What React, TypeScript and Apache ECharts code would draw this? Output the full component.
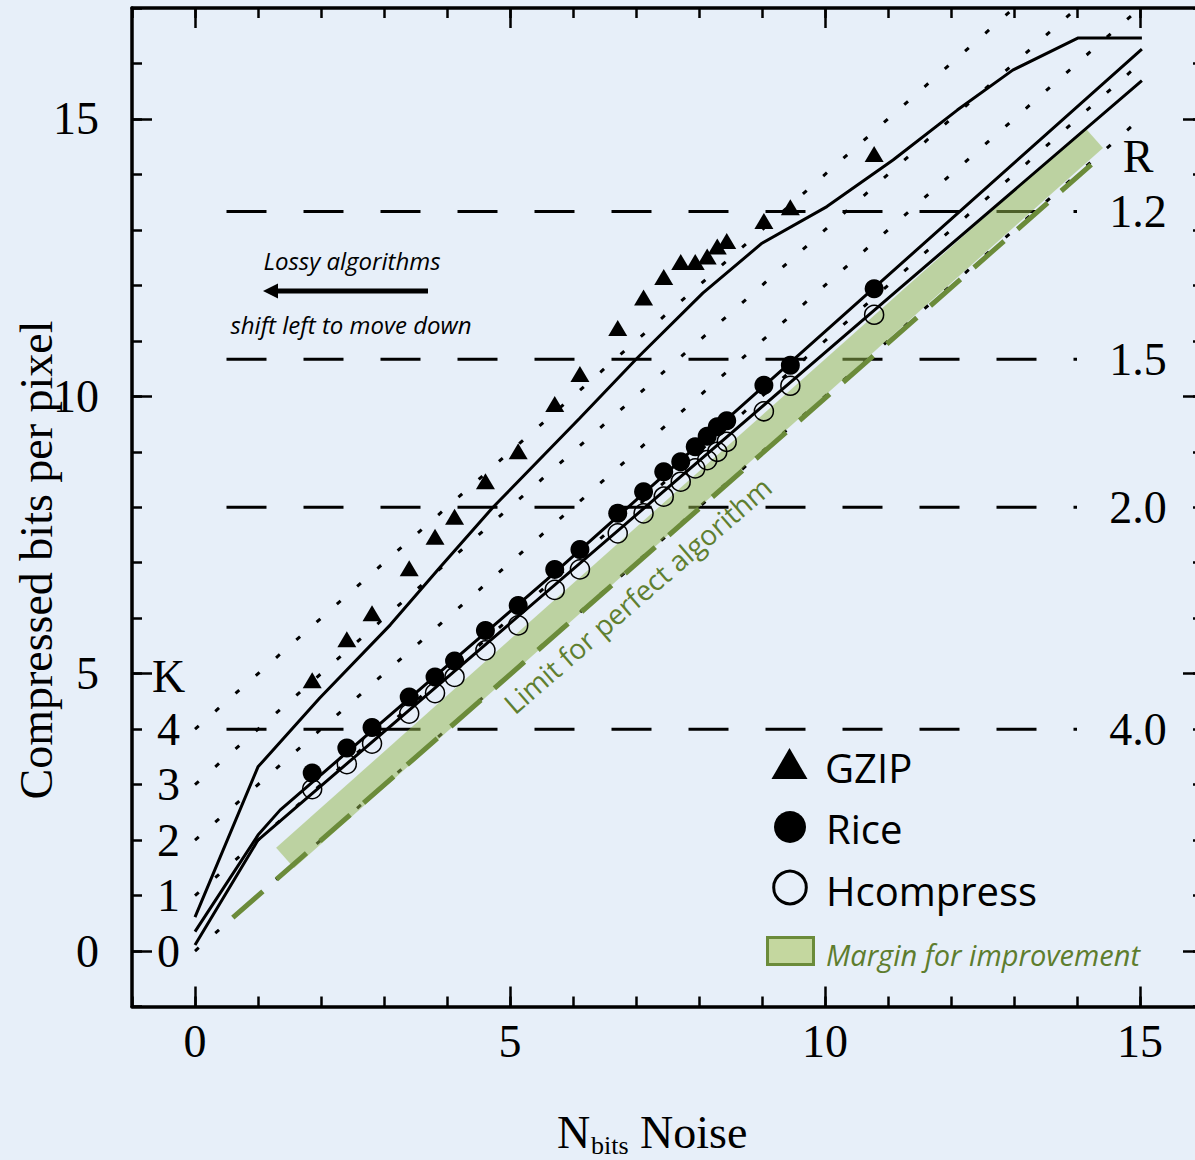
import React, { useEffect, useRef } from "react";
import * as echarts from "echarts";

// ---------- data ----------
const nBits = [1.86, 2.41, 2.81, 3.4, 3.81, 4.12, 4.61, 5.13, 5.71, 6.11, 6.71, 7.12, 7.44, 7.71, 7.94, 8.13, 8.29, 8.44, 9.03, 9.45, 10.78];
const gzipBits = [4.88, 5.62, 6.09, 6.9, 7.47, 7.83, 8.47, 9.01, 9.86, 10.4, 11.23, 11.78, 12.15, 12.42, 12.42, 12.52, 12.7, 12.8, 13.16, 13.41, 14.37];
const riceBits = [3.21, 3.66, 4.03, 4.58, 4.94, 5.23, 5.78, 6.23, 6.88, 7.24, 7.89, 8.28, 8.64, 8.82, 9.09, 9.28, 9.45, 9.56, 10.2, 10.56, 11.94];
const hcompBits = [2.92, 3.37, 3.74, 4.28, 4.65, 4.94, 5.42, 5.87, 6.51, 6.88, 7.53, 7.89, 8.19, 8.46, 8.7, 8.85, 9.0, 9.18, 9.73, 10.19, 11.47];

const gzipFitX = [0, 1, 1.98, 3.1, 3.89, 4.73, 6.11, 7.02, 8.06, 9.0, 10.03, 11.08, 12.1, 12.98, 14.02, 15.03];
const gzipFitY = [0.61, 3.32, 4.56, 5.88, 6.92, 8.0, 9.61, 10.69, 11.86, 12.76, 13.42, 14.26, 15.16, 15.88, 16.46, 16.46];
const riceFitX = [0, 1, 1.35, 5.58, 15.03];
const riceFitY = [0.35, 2.09, 2.54, 6.69, 16.26];
const hcompFitX = [0, 1, 11.19, 15.03];
const hcompFitY = [0.11, 2.0, 11.95, 15.69];

// dotted reference lines (label K), start and end points
const kLabels = ["0", "1", "2", "3", "4"];
const kStartY = [0, 1, 2, 3, 4];
const kEndX = [15, 15, 15, 14, 13];
const kEndY = [15, 16, 17, 17, 17];

// dashed horizontal lines (label R)
const rLabels = ["1.2", "1.5", "2.0", "4.0"];
const rLevels = [13.33, 10.67, 8.0, 4.0];
const rLineX = [0.5, 14.0];

// perfect-algorithm limit and margin band
const limitX = [0.6, 14.25];
const limitY = [0.6, 14.2];
const bandX = [1.43, 14.27];
const bandY = [1.68, 14.66];

const xTicks = [0, 5, 10, 15];
const yTicks = [0, 5, 10, 15];

const SERIF = "'Liberation Serif', 'Times New Roman', serif";
const SANS = "'Open Sans', 'Noto Sans', sans-serif";
const OLIVE = "#6b8b3a";
const BG = "#e7eff9";

export default function App() {
  const ref = useRef<HTMLDivElement>(null);

  useEffect(() => {
    if (!ref.current) return;
    const chart = echarts.init(ref.current, null, { renderer: "svg" });

    const axisLine = { show: true, onZero: false, lineStyle: { color: "#000", width: 3.5 } };
    const tickLine = { color: "#000", width: 2.5 };
    const mkX = (position: string, major: boolean, labels: boolean) => ({
      type: "value",
      min: -1,
      max: 16,
      interval: 1,
      position,
      splitLine: { show: false },
      axisLine: major ? { show: false, onZero: false } : axisLine,
      axisTick: major
        ? { show: true, inside: true, length: 20, customValues: xTicks, lineStyle: tickLine }
        : { show: true, inside: true, length: 10, lineStyle: tickLine },
      axisLabel: labels
        ? { show: true, customValues: xTicks, fontSize: 46, fontFamily: SERIF, color: "#000", margin: 12 }
        : { show: false },
    });
    const mkY = (position: string, major: boolean, labels: boolean) => ({
      type: "value",
      min: -1,
      max: 17,
      interval: 1,
      position,
      splitLine: { show: false },
      axisLine: major ? { show: false, onZero: false } : axisLine,
      axisTick: major
        ? { show: true, inside: true, length: 20, customValues: yTicks, lineStyle: tickLine }
        : { show: true, inside: true, length: 10, lineStyle: tickLine },
      axisLabel: labels
        ? { show: true, customValues: yTicks, fontSize: 46, fontFamily: SERIF, color: "#000", margin: 33 }
        : { show: false },
    });

    const pairs = (xs: number[], ys: number[]) => xs.map((x, i) => [x, ys[i]]);

    const kSeries = kLabels.map((k, i) => ({
      type: "line",
      name: "K" + k,
      data: [[0, kStartY[i]], [kEndX[i], kEndY[i]]],
      symbol: "none",
      silent: true,
      z: 1,
      lineStyle: { color: "#000", width: 3, type: [5, 22] },
    }));
    const rSeries = rLevels.map((y, i) => ({
      type: "line",
      name: "R" + rLabels[i],
      data: [[rLineX[0], y], [rLineX[1], y]],
      symbol: "none",
      silent: true,
      z: 1,
      lineStyle: { color: "#000", width: 3, type: [40, 37] },
    }));

    const textPoint = (data: any[], extra: any) => ({
      type: "scatter",
      data,
      symbol: "circle",
      symbolSize: 1,
      silent: true,
      z: 10,
      itemStyle: { color: "transparent" },
      label: {
        show: true,
        position: "inside",
        formatter: (p: any) => p.value[2],
        textBorderWidth: 0,
        textShadowBlur: 0,
        opacity: 1,
        ...extra,
      },
    });

    const option: any = {
      animation: false,
      backgroundColor: BG,
      grid: { left: 132, top: 8, width: 1071, height: 998.5, containLabel: false, outerBoundsMode: "none" },
      xAxis: [mkX("bottom", false, false), mkX("bottom", true, true), mkX("top", false, false), mkX("top", true, false)],
      yAxis: [mkY("left", false, false), mkY("left", true, true), mkY("right", false, false), mkY("right", true, false)],
      series: [
        ...kSeries,
        ...rSeries,
        {
          type: "line",
          name: "band",
          data: pairs(bandX, bandY),
          symbol: "none",
          silent: true,
          z: 2,
          lineStyle: { color: "rgba(150,185,80,0.52)", width: 27, cap: "butt" },
        },
        {
          type: "line",
          name: "limit",
          data: pairs(limitX, limitY),
          symbol: "none",
          silent: true,
          z: 3,
          lineStyle: { color: OLIVE, width: 5, type: [40, 18] },
        },
        {
          type: "line",
          name: "gzipFit",
          data: pairs(gzipFitX, gzipFitY),
          symbol: "none",
          z: 4,
          lineStyle: { color: "#000", width: 3 },
        },
        {
          type: "line",
          name: "riceFit",
          data: pairs(riceFitX, riceFitY),
          symbol: "none",
          z: 4,
          lineStyle: { color: "#000", width: 3 },
        },
        {
          type: "line",
          name: "hcompFit",
          data: pairs(hcompFitX, hcompFitY),
          symbol: "none",
          z: 4,
          lineStyle: { color: "#000", width: 3 },
        },
        {
          type: "scatter",
          name: "GZIP",
          data: pairs(nBits, gzipBits),
          symbol: "triangle",
          symbolSize: [19, 16],
          z: 5,
          itemStyle: { color: "#000", opacity: 1 },
        },
        {
          type: "scatter",
          name: "Hcompress",
          data: pairs(nBits, hcompBits),
          symbol: "circle",
          symbolSize: 19,
          z: 5,
          itemStyle: { color: "transparent", borderColor: "#000", borderWidth: 1.5, opacity: 1 },
        },
        {
          type: "scatter",
          name: "Rice",
          data: pairs(nBits, riceBits),
          symbol: "circle",
          symbolSize: 19,
          z: 6,
          itemStyle: { color: "#000", opacity: 1 },
        },
        textPoint(
          [...kLabels.map((k, i) => [-0.42, kStartY[i], k]), [-0.42, 4.95, "K"]],
          { fontSize: 46, fontFamily: SERIF, color: "#000" }
        ),
        textPoint(
          [...rLabels.map((r, i) => [14.97, rLevels[i], r]), [14.97, 14.32, "R"]],
          { fontSize: 46, fontFamily: SERIF, color: "#000" }
        ),
        textPoint([[7.02, 6.42, "Limit for perfect algorithm"]], {
          fontSize: 28,
          fontFamily: SANS,
          color: "#5f7f30",
          rotate: 41,
        }),
      ],
      graphic: [
        // axis titles
        {
          type: "text",
          x: 36,
          y: 560,
          rotation: Math.PI / 2,
          style: { text: "Compressed bits per pixel", font: `46px ${SERIF}`, fill: "#000", align: "center", verticalAlign: "middle" },
        },
        { type: "text", x: 557, y: 1132, style: { text: "N", font: `46px ${SERIF}`, fill: "#000", align: "left", verticalAlign: "middle" } },
        { type: "text", x: 591, y: 1145, style: { text: "bits", font: `26px ${SERIF}`, fill: "#000", align: "left", verticalAlign: "middle" } },
        { type: "text", x: 640, y: 1132, style: { text: "Noise", font: `46px ${SERIF}`, fill: "#000", align: "left", verticalAlign: "middle" } },
        // lossy annotation
        { type: "text", x: 352, y: 260, style: { text: "Lossy algorithms", font: `italic 24px ${SANS}`, fill: "#000", align: "center", verticalAlign: "middle" } },
        { type: "text", x: 351, y: 324, style: { text: "shift left to move down", font: `italic 24px ${SANS}`, fill: "#000", align: "center", verticalAlign: "middle" } },
        { type: "line", shape: { x1: 428, y1: 291, x2: 274, y2: 291 }, style: { stroke: "#000", lineWidth: 5 } },
        { type: "polygon", shape: { points: [[263, 291], [278, 283.5], [278, 298.5]] }, style: { fill: "#000" } },
        // legend
        { type: "polygon", shape: { points: [[771.5, 779], [789.5, 748], [807.5, 779]] }, style: { fill: "#000" } },
        { type: "text", x: 825, y: 767, style: { text: "GZIP", font: `40px ${SANS}`, fill: "#000", align: "left", verticalAlign: "middle" } },
        { type: "circle", shape: { cx: 790, cy: 827, r: 16 }, style: { fill: "#000" } },
        { type: "text", x: 826, y: 828, style: { text: "Rice", font: `40px ${SANS}`, fill: "#000", align: "left", verticalAlign: "middle" } },
        { type: "circle", shape: { cx: 790, cy: 887.5, r: 16.3 }, style: { fill: "none", stroke: "#000", lineWidth: 3 } },
        { type: "text", x: 826, y: 890, style: { text: "Hcompress", font: `40px ${SANS}`, fill: "#000", align: "left", verticalAlign: "middle" } },
        { type: "rect", shape: { x: 767.5, y: 937.5, width: 46, height: 27 }, style: { fill: "#c4d79f", stroke: OLIVE, lineWidth: 3 } },
        { type: "text", x: 826, y: 954, style: { text: "Margin for improvement", font: `italic 29px ${SANS}`, fill: "#5e7d2e", align: "left", verticalAlign: "middle" } },
      ],
    };

    chart.setOption(option);
    return () => chart.dispose();
  }, []);

  return (
    <div
      ref={ref}
      style={{ position: "absolute", left: 0, top: 0, width: 1195, height: 1160, background: BG }}
    />
  );
}
